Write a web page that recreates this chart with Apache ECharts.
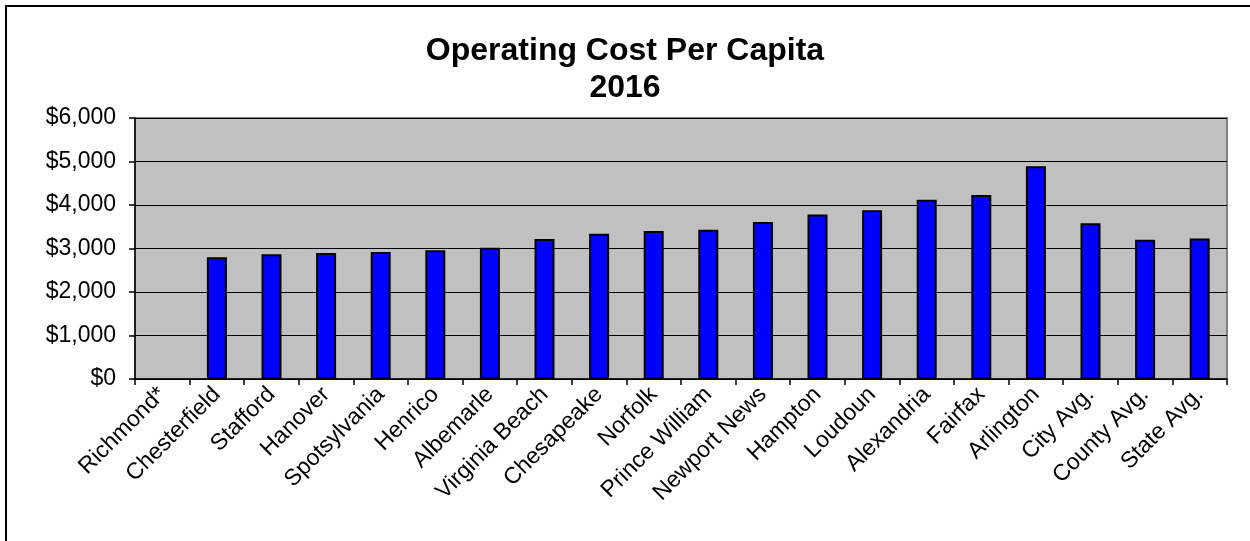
<!DOCTYPE html>
<html>
<head>
<meta charset="utf-8">
<script src="https://cdn.jsdelivr.net/npm/echarts@6/dist/echarts.min.js"></script>
<style>
html,body{margin:0;padding:0;background:#fff;}
#chart{width:1250px;height:541px;}
</style>
</head>
<body>
<div id="chart"></div>
<script>
const titleText = "Operating Cost Per Capita\n2016";
const categories = ["Richmond*","Chesterfield","Stafford","Hanover","Spotsylvania","Henrico","Albemarle","Virginia Beach","Chesapeake","Norfolk","Prince William","Newport News","Hampton","Loudoun","Alexandria","Fairfax","Arlington","City Avg.","County Avg.","State Avg."];
const costPerCapita = [null,2800,2865,2895,2920,2960,3020,3220,3340,3400,3430,3610,3780,3880,4120,4230,4890,3580,3200,3230];
const yMin = 0, yMax = 6000, yStep = 1000;

const FONT = "'Liberation Sans', Arial, sans-serif";
const chart = echarts.init(document.getElementById('chart'), null, {renderer:'canvas'});
chart.setOption({
  animation:false,
  backgroundColor:'#ffffff',
  graphic:[{
    type:'rect', z:-10, silent:true,
    shape:{x:6, y:6, width:1400, height:700},
    style:{fill:'none', stroke:'#000', lineWidth:2}
  }],
  title:{
    text:titleText,
    left:'center',
    top:28,
    textStyle:{fontFamily:FONT, fontSize:32, fontWeight:'bold', color:'#000', lineHeight:37}
  },
  grid:{
    left:135, right:23, top:118, bottom:162,
    show:true, backgroundColor:'#c0c0c0', borderColor:'#808080', borderWidth:2
  },
  xAxis:{
    type:'category',
    data:categories,
    boundaryGap:true,
    axisLine:{show:true, lineStyle:{color:'#000', width:1.5}},
    axisTick:{show:true, alignWithLabel:false, length:6, lineStyle:{color:'#000', width:1.5}},
    axisLabel:{interval:0, rotate:45, margin:12, fontFamily:FONT, fontSize:23, color:'#000'},
    splitLine:{show:false}
  },
  yAxis:{
    type:'value',
    min:yMin, max:yMax, interval:yStep,
    axisLine:{show:true, lineStyle:{color:'#000', width:1.5}},
    axisTick:{show:true, length:6, lineStyle:{color:'#000', width:1.5}},
    axisLabel:{margin:19, fontFamily:FONT, fontSize:23, color:'#000',
      formatter:v => '$' + v.toLocaleString('en-US')},
    splitLine:{show:true, lineStyle:{color:'#000', width:1}}
  },
  series:[{
    type:'bar',
    data:costPerCapita,
    barWidth:20,
    itemStyle:{color:'#0000ff', borderColor:'#000', borderWidth:2}
  }]
});
</script>
</body>
</html>
